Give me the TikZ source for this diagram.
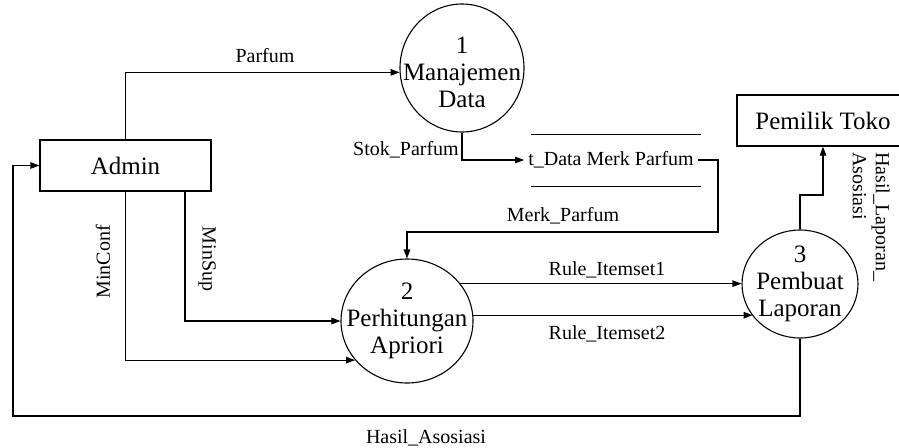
\documentclass[tikz,border=0pt]{standalone}
\usepackage{fontspec}
\setmainfont{Liberation Serif}
\usetikzlibrary{arrows.meta,shapes.geometric}
\begin{document}
\begin{tikzpicture}[x=1pt,y=-1pt,
  big/.style={font=\fontsize{25}{27}\selectfont},
  small/.style={font=\fontsize{20}{23}\selectfont, inner sep=0pt},
  entity/.style={draw, line width=1.3pt, minimum width=171pt, minimum height=51pt, inner sep=0pt, big},
  proc/.style={draw, ellipse, line width=1.1pt, inner sep=0pt},
  ptext/.style={big, align=center, inner sep=0pt},
  arr/.style={line width=1.1pt, -{Triangle[length=9pt,width=6.5pt]}},
  ln/.style={line width=1.1pt}]
\useasboundingbox (0,0) rectangle (899,447);

% entities
\node[entity] (admin) at (125.5,165.5) {Admin};
\node[entity, minimum width=172pt] (pemilik) at (823,120.5) {Pemilik Toko};

% processes
\node[proc, minimum width=124pt, minimum height=128pt] (p1) at (462,68) {};
\node[ptext] (p1t) at (462,72) {1\\Manajemen\\Data};
\node[proc, minimum width=132pt, minimum height=124pt] (p2) at (407,321) {};
\node[ptext] (p2t) at (407,321) {2\\Perhitungan\\Apriori};
\node[proc, minimum width=116pt, minimum height=108pt] (p3) at (800,284) {};
\node[ptext] (p3t) at (800,284) {3\\Pembuat\\Laporan};

% data store
\node[minimum width=170pt, minimum height=51pt, inner sep=0pt] (store) at (616,160.5) {};
\draw[ln] (store.north west) -- (store.north east);
\draw[ln] (store.south west) -- (store.south east);
\node[small, inner xsep=4pt] (storet) at (611,160) {t\_Data Merk Parfum};

% helper coordinates
\coordinate (m1) at (718,232);
\coordinate (h1) at (13,416);
\coordinate (l1) at (823,195);
\coordinate (ms) at (185,191);

% connectors
\draw[arr] (admin.north) |- (p1.184);
\draw[arr] (p1.south) |- (storet.west);
\draw[arr] (storet.east) -| (m1) -| (p2.north);
\draw[arr] (ms) |- (p2.west);
\draw[arr] (admin.south) |- (p2.217);
\draw[arr] (p2.35) -- (p2.35 -| p3.west);
\draw[arr] (p2.5) -- (p2.5 -| p3.214);
\draw[arr] (p3.south) |- (h1) |- (admin.west);
\draw[arr] (p3.north) |- (l1) -- (pemilik.south);

% labels
\node[small] (lparfum) at (265,56) {Parfum};
\node[small, anchor=east] (lstok) at (459,150) {Stok\_Parfum};
\node[small] (lmerk) at (563,216) {Merk\_Parfum};
\node[small, rotate=-90] (lminsup) at (207,259) {MinSup};
\node[small, rotate=90] (lminconf) at (103,262) {MinConf};
\node[small] (lr1) at (607,270) {Rule\_Itemset1};
\node[small] (lr2) at (607,334) {Rule\_Itemset2};
\node[small] (lhasil) at (426,438) {Hasil\_Asosiasi};
\node[small, rotate=-90, anchor=north west, align=left] (llap) at (890,152) {Hasil\_Laporan\_\\Asosiasi};
\end{tikzpicture}
\end{document}
